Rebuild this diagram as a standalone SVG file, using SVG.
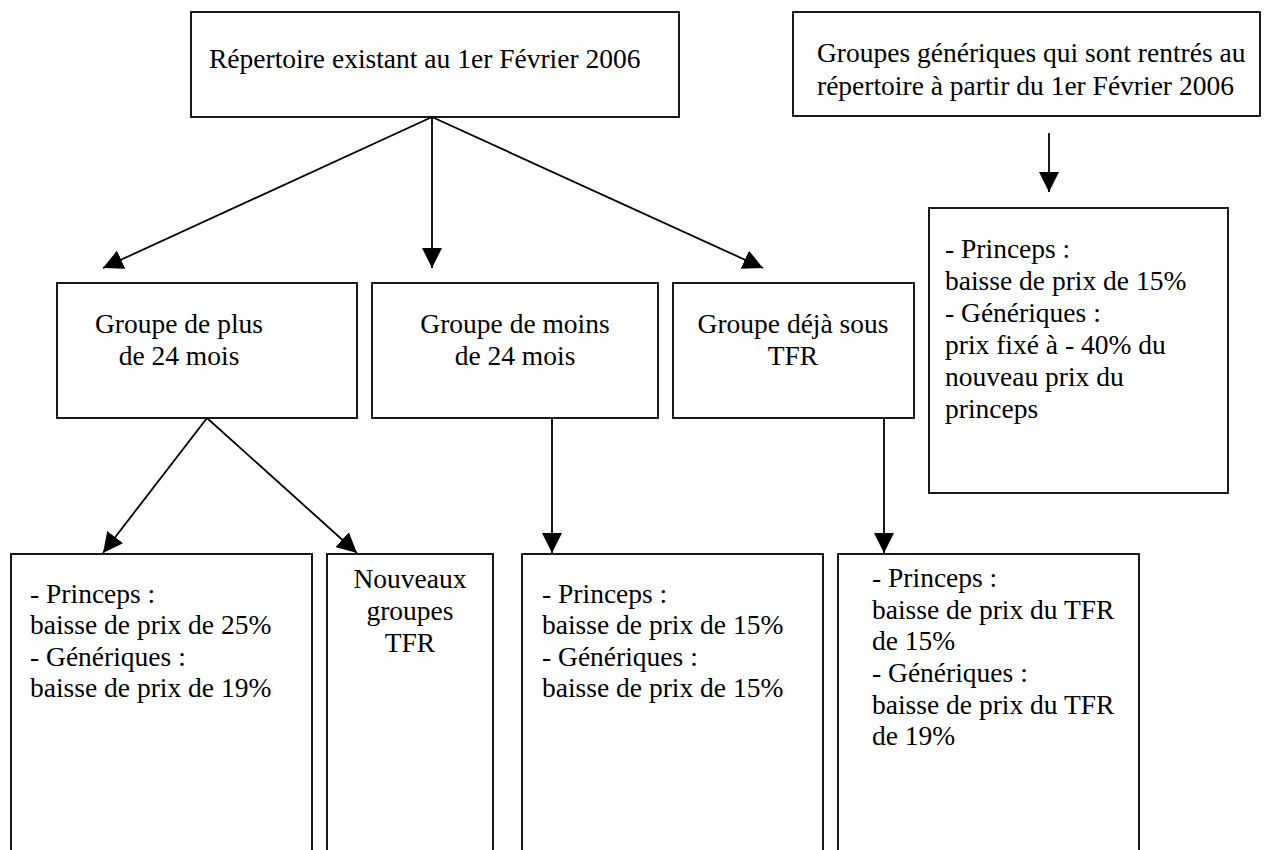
<svg xmlns="http://www.w3.org/2000/svg" width="1264" height="850" viewBox="0 0 1264 850">
<defs>
<style>
.box{fill:#fff;stroke:#000;stroke-width:1.8}
.t{font-family:"Liberation Serif","Times New Roman",Tinos,serif;font-size:27.5px;fill:#000}
.c{text-anchor:middle}
.ln{stroke:#000;stroke-width:1.8;fill:none;marker-end:url(#ah)}
</style>
<marker id="ah" markerUnits="userSpaceOnUse" markerWidth="20" markerHeight="20" refX="20" refY="10" orient="auto">
<path d="M0,0 L20,10 L0,20 Z" fill="#000"/>
</marker>
</defs>
<rect width="1264" height="850" fill="#fff"/>
<g id="connectors">
<line class="ln" x1="432" y1="117" x2="103" y2="268"/>
<line class="ln" x1="432" y1="117" x2="432" y2="268"/>
<line class="ln" x1="432" y1="117" x2="763" y2="268"/>
<line class="ln" x1="1049" y1="133" x2="1049" y2="192"/>
<line class="ln" x1="207" y1="418" x2="103" y2="553"/>
<line class="ln" x1="207" y1="418" x2="357" y2="553"/>
<line class="ln" x1="552" y1="418" x2="552" y2="553"/>
<line class="ln" x1="884" y1="418" x2="884" y2="553"/>
</g>
<g id="n-repertoire">
<rect class="box" x="191" y="12" width="488" height="105"/>
<text class="t" x="209" y="68">Répertoire existant au 1er Février 2006</text>
</g>
<g id="n-groupes-generiques">
<rect class="box" x="793" y="12" width="467" height="104"/>
<text class="t" x="817" y="62">Groupes génériques qui sont rentrés au</text>
<text class="t" x="817" y="95">répertoire à partir du 1er Février 2006</text>
</g>
<g id="n-nouveaux-generiques">
<rect class="box" x="929" y="208" width="299" height="285"/>
<text class="t" x="945" y="258">- Princeps :</text>
<text class="t" x="945" y="290">baisse de prix de 15%</text>
<text class="t" x="945" y="322">- Génériques :</text>
<text class="t" x="945" y="354">prix fixé à - 40% du</text>
<text class="t" x="945" y="386">nouveau prix du</text>
<text class="t" x="945" y="418">princeps</text>
</g>
<g id="n-plus-24">
<rect class="box" x="57" y="283" width="300" height="135"/>
<text class="t c" x="179" y="333">Groupe de plus</text>
<text class="t c" x="179" y="365">de 24 mois</text>
</g>
<g id="n-moins-24">
<rect class="box" x="372" y="283" width="286" height="135"/>
<text class="t c" x="515" y="333">Groupe de moins</text>
<text class="t c" x="515" y="365">de 24 mois</text>
</g>
<g id="n-sous-tfr">
<rect class="box" x="673" y="283" width="241" height="135"/>
<text class="t c" x="793" y="333">Groupe déjà sous</text>
<text class="t c" x="793" y="365">TFR</text>
</g>
<g id="n-baisse-25-19">
<rect class="box" x="11" y="554" width="301" height="320"/>
<text class="t" x="30" y="603">- Princeps :</text>
<text class="t" x="30" y="634">baisse de prix de 25%</text>
<text class="t" x="30" y="666">- Génériques :</text>
<text class="t" x="30" y="697">baisse de prix de 19%</text>
</g>
<g id="n-nouveaux-tfr">
<rect class="box" x="327" y="554" width="166" height="320"/>
<text class="t c" x="410" y="588">Nouveaux</text>
<text class="t c" x="410" y="620">groupes</text>
<text class="t c" x="410" y="652">TFR</text>
</g>
<g id="n-baisse-15-15">
<rect class="box" x="522" y="554" width="301" height="320"/>
<text class="t" x="542" y="603">- Princeps :</text>
<text class="t" x="542" y="634">baisse de prix de 15%</text>
<text class="t" x="542" y="666">- Génériques :</text>
<text class="t" x="542" y="697">baisse de prix de 15%</text>
</g>
<g id="n-baisse-tfr">
<rect class="box" x="838" y="554" width="301" height="320"/>
<text class="t" x="872" y="587">- Princeps :</text>
<text class="t" x="872" y="619">baisse de prix du TFR</text>
<text class="t" x="872" y="650">de 15%</text>
<text class="t" x="872" y="682">- Génériques :</text>
<text class="t" x="872" y="714">baisse de prix du TFR</text>
<text class="t" x="872" y="745">de 19%</text>
</g>
</svg>
